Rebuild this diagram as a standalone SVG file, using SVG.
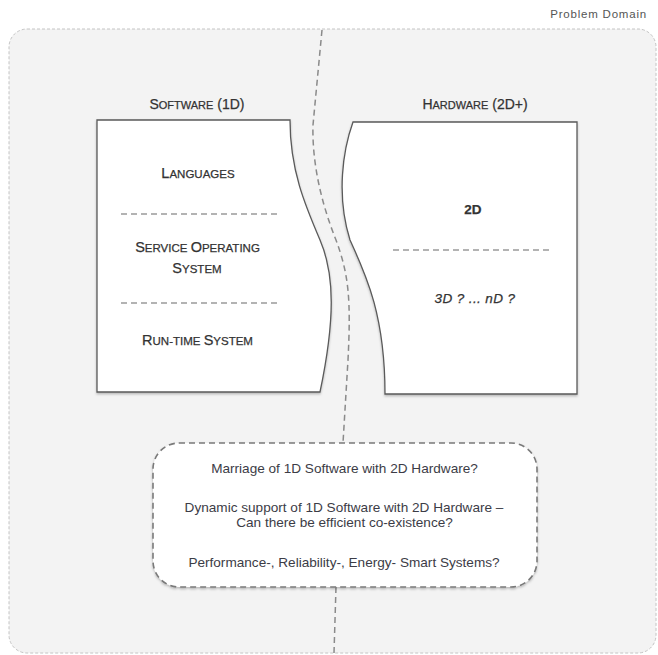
<svg xmlns="http://www.w3.org/2000/svg" width="658" height="655" viewBox="0 0 658 655">
  <defs>
    <filter id="shadow" x="-10%" y="-10%" width="120%" height="120%">
      <feDropShadow dx="0" dy="1.5" stdDeviation="1.2" flood-color="#000" flood-opacity="0.25"/>
    </filter>
    <style>
      .panel { fill: #f3f3f3; stroke: #c4c4c4; stroke-width: 1; stroke-dasharray: 3 2; }
      .box { fill: #ffffff; stroke: #5a5a5a; stroke-width: 1.3; filter: url(#shadow); }
      .bubble { fill: #ffffff; stroke: #7a7a7a; stroke-width: 1.6; stroke-dasharray: 6 4; filter: url(#shadow); }
      .divider { fill: none; stroke: #8a8a8a; stroke-width: 1.5; stroke-dasharray: 6 4; }
      .sep { stroke: #9a9a9a; stroke-width: 1.6; stroke-dasharray: 6 4; }
      .sc { font-family: "Liberation Sans", Arial, sans-serif; fill: #333; stroke: #333; stroke-width: 0.25; text-anchor: middle; }
      .big { font-size: 14.5px; }
      .small { font-size: 11.5px; }
      .title .big { font-size: 14px; }
      .title .small { font-size: 11px; }
      .body { font-family: "Liberation Sans", Arial, sans-serif; font-size: 13.6px; fill: #3c3c46; text-anchor: middle; }
      .label { font-family: "Liberation Sans", Arial, sans-serif; font-size: 11.5px; letter-spacing: 0.8px; fill: #555; text-anchor: end; }
    </style>
  </defs>

  <!-- problem domain background -->
  <g id="problem-domain">
    <rect class="panel" x="9" y="29" width="647" height="624" rx="18" ry="18"/>
    <text class="label" x="647" y="18">Problem Domain</text>
  </g>

  <!-- connectors: the dashed split line between software and hardware -->
  <g id="connectors">
    <path class="divider" d="M322,30 L313,125 C312,160 320,200 336,240 C349,275 351,300 348,360 L343,443"/>
    <path class="divider" d="M336,587 L334,653"/>
  </g>

  <!-- software stack -->
  <g id="software">
    <text class="sc title" x="197" y="109"><tspan class="big">S</tspan><tspan class="small">OFTWARE</tspan><tspan class="big"> (1D)</tspan></text>
    <path class="box" d="M97,120 L290,120 C290,170 305,205 320,240 C335,275 335,320 320,392 L97,392 Z"/>
    <text class="sc" x="198" y="178"><tspan class="big">L</tspan><tspan class="small">ANGUAGES</tspan></text>
    <line class="sep" x1="121" y1="214" x2="280" y2="214"/>
    <text class="sc" x="197.5" y="252"><tspan class="big">S</tspan><tspan class="small">ERVICE </tspan><tspan class="big">O</tspan><tspan class="small">PERATING</tspan></text>
    <text class="sc" x="197" y="273"><tspan class="big">S</tspan><tspan class="small">YSTEM</tspan></text>
    <line class="sep" x1="121" y1="303" x2="280" y2="303"/>
    <text class="sc" x="197.5" y="345"><tspan class="big">R</tspan><tspan class="small">UN-TIME </tspan><tspan class="big">S</tspan><tspan class="small">YSTEM</tspan></text>
  </g>

  <!-- hardware stack -->
  <g id="hardware">
    <text class="sc title" x="475" y="109"><tspan class="big">H</tspan><tspan class="small">ARDWARE</tspan><tspan class="big"> (2D+)</tspan></text>
    <path class="box" d="M353,122 L577,122 L577,394 L385,394 C385,315 366,275 350,240 C336,195 343,150 353,122 Z"/>
    <text class="sc" x="473" y="214" font-size="13.5" font-weight="bold" stroke-width="0">2D</text>
    <line class="sep" x1="393" y1="250" x2="553" y2="250"/>
    <text class="sc" x="475" y="303" font-size="13.5" font-style="italic" letter-spacing="0.4" stroke-width="0" fill="#3c3c50">3D ? ... nD ?</text>
  </g>

  <!-- open questions -->
  <g id="questions">
    <rect class="bubble" x="153" y="443" width="384" height="144" rx="26" ry="26"/>
    <text class="body" x="344.5" y="473">Marriage of 1D Software with 2D Hardware?</text>
    <text class="body" x="344" y="512">Dynamic support of 1D Software with 2D Hardware –</text>
    <text class="body" x="344.5" y="527">Can there be efficient co-existence?</text>
    <text class="body" x="344" y="567">Performance-, Reliability-, Energy- Smart Systems?</text>
  </g>
</svg>
